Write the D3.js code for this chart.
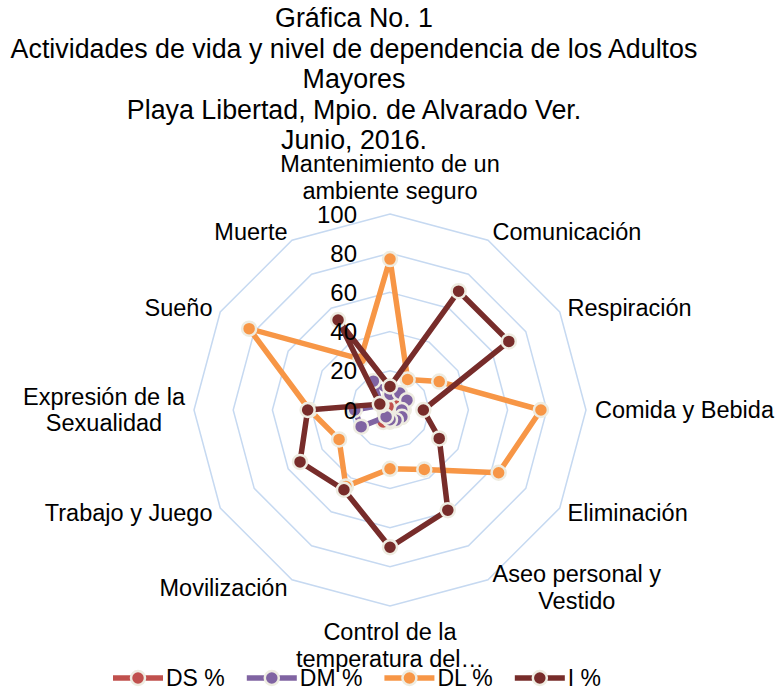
<!DOCTYPE html>
<html>
<head>
<meta charset="utf-8">
<script src="https://cdn.jsdelivr.net/npm/d3@7"></script>
<style>
  html, body { margin: 0; padding: 0; background: #fff; }
  svg { display: block; font-family: "Liberation Sans", Arial, sans-serif; }
</style>
</head>
<body>
<svg id="chart" width="779" height="692"></svg>
<script>
// Title lines
const titleLines = [
  "Gráfica No. 1",
  "Actividades de vida y nivel de dependencia de los Adultos",
  "Mayores",
  "Playa Libertad, Mpio. de Alvarado Ver.",
  "Junio, 2016."
];

// Activities of daily living (clockwise from the top); "\n" marks a label line break
const categories = [
  "Mantenimiento de un\nambiente seguro",
  "Comunicación",
  "Respiración",
  "Comida y Bebida",
  "Eliminación",
  "Aseo personal y\nVestido",
  "Control de la\ntemperatura del…",
  "Movilización",
  "Trabajo y Juego",
  "Expresión de la\nSexualidad",
  "Sueño",
  "Muerte"
];

// Percentage of older adults per dependency level
const seriesNames = ["DS %", "DM %", "DL %", "I %"];
const dsValues = [2, 3, 5, 7, 7, 5, 6, 7, 3, 2, 2, 2];
const dmValues = [8, 10, 10, 6, 7, 6, 5, 4, 17, 18, 5, 17];
const dlValues = [77, 18, 29, 77, 64, 35, 30, 45, 30, 41, 83, 30];
const iValues  = [12, 70, 70, 17, 29, 59, 70, 47, 53, 42, 6, 53];

// Radial axis tick values
const tickValues = [0, 20, 40, 60, 80, 100];

const seriesColors = ["#C0504D", "#8064A2", "#F79646", "#772C2A"];
const seriesData = [dsValues, dmValues, dlValues, iValues];

const svg = d3.select("#chart");
const cx = 390, cy = 410, R = 196;

const r = d3.scaleLinear().domain([0, 100]).range([0, R]);
const angle = d3.scaleLinear().domain([0, categories.length]).range([0, 2 * Math.PI]);

// Title
svg.append("g").selectAll("text").data(titleLines).join("text")
  .attr("x", 354)
  .attr("y", (d, i) => 18 + i * 30.5)
  .attr("text-anchor", "middle")
  .attr("dominant-baseline", "central")
  .style("font-size", "26.8px")
  .attr("fill", "#000")
  .text(d => d);

const plot = svg.append("g").attr("transform", `translate(${cx},${cy})`);

// Polygonal grid rings
const ringLine = d3.lineRadial()
  .angle((d, i) => angle(i))
  .radius(d => r(d))
  .curve(d3.curveLinearClosed);

plot.append("g").selectAll("path")
  .data(tickValues.filter(v => v > 0))
  .join("path")
  .attr("d", v => ringLine(categories.map(() => v)))
  .attr("fill", "none")
  .attr("stroke", "#C6D9F1")
  .attr("stroke-width", 1.5);

// Series lines and markers
const seriesLine = d3.lineRadial()
  .angle((d, i) => angle(i))
  .radius(d => r(d))
  .curve(d3.curveLinearClosed);

seriesData.forEach((vals, s) => {
  const g = plot.append("g");
  g.append("path")
    .attr("d", seriesLine(vals))
    .attr("fill", "none")
    .attr("stroke", seriesColors[s])
    .attr("stroke-width", 5.5)
    .attr("stroke-linejoin", "round");
  g.selectAll("circle").data(vals).join("circle")
    .attr("cx", (d, i) => r(d) * Math.sin(angle(i)))
    .attr("cy", (d, i) => -r(d) * Math.cos(angle(i)))
    .attr("r", 7)
    .attr("fill", seriesColors[s])
    .attr("stroke", "#EEECE1")
    .attr("stroke-width", 2.5);
});

// Radial axis tick labels
plot.append("g").selectAll("text").data(tickValues).join("text")
  .attr("x", -33)
  .attr("y", d => -r(d))
  .attr("text-anchor", "end")
  .attr("dominant-baseline", "central")
  .style("font-size", "24px")
  .attr("fill", "#000")
  .text(d => d);

// Category labels around the web
const labelR = 205, lineH = 26.5;
categories.forEach((c, i) => {
  const a = angle(i);
  const sa = Math.sin(a), ca = Math.cos(a);
  const x = labelR * sa, y = -labelR * ca;
  const lines = c.split("\n");
  const g = plot.append("g");
  const texts = g.selectAll("text").data(lines).join("text")
    .attr("text-anchor", "middle")
    .attr("dominant-baseline", "central")
    .attr("x", 0)
    .attr("y", (d, k) => (k - (lines.length - 1) / 2) * lineH)
    .style("font-size", "23.5px")
    .attr("fill", "#000")
    .text(d => d);
  let maxW = 0;
  texts.each(function () { maxW = Math.max(maxW, this.getComputedTextLength()); });
  const blockH = lines.length * lineH;
  let bx = x, by = y;
  if (sa > 0.01) bx = x + maxW / 2;
  else if (sa < -0.01) bx = x - maxW / 2;
  if (Math.abs(sa) <= 0.01) by = ca > 0 ? y - blockH / 2 - 1 : y + blockH / 2 + 4;
  g.attr("transform", `translate(${bx},${by})`);
});

// Legend
const legend = svg.append("g");
let lx = 113;
const ly = 678;
seriesNames.forEach((name, s) => {
  const g = legend.append("g");
  g.append("line")
    .attr("x1", lx).attr("x2", lx + 50)
    .attr("y1", ly).attr("y2", ly)
    .attr("stroke", seriesColors[s])
    .attr("stroke-width", 5.5);
  g.append("circle")
    .attr("cx", lx + 25).attr("cy", ly)
    .attr("r", 7)
    .attr("fill", seriesColors[s])
    .attr("stroke", "#EEECE1")
    .attr("stroke-width", 2.5);
  const t = g.append("text")
    .attr("x", lx + 53).attr("y", ly)
    .attr("dominant-baseline", "central")
    .style("font-size", "23px")
    .attr("fill", "#000")
    .text(name);
  lx = lx + 53 + t.node().getComputedTextLength() + 22;
});
</script>
</body>
</html>
